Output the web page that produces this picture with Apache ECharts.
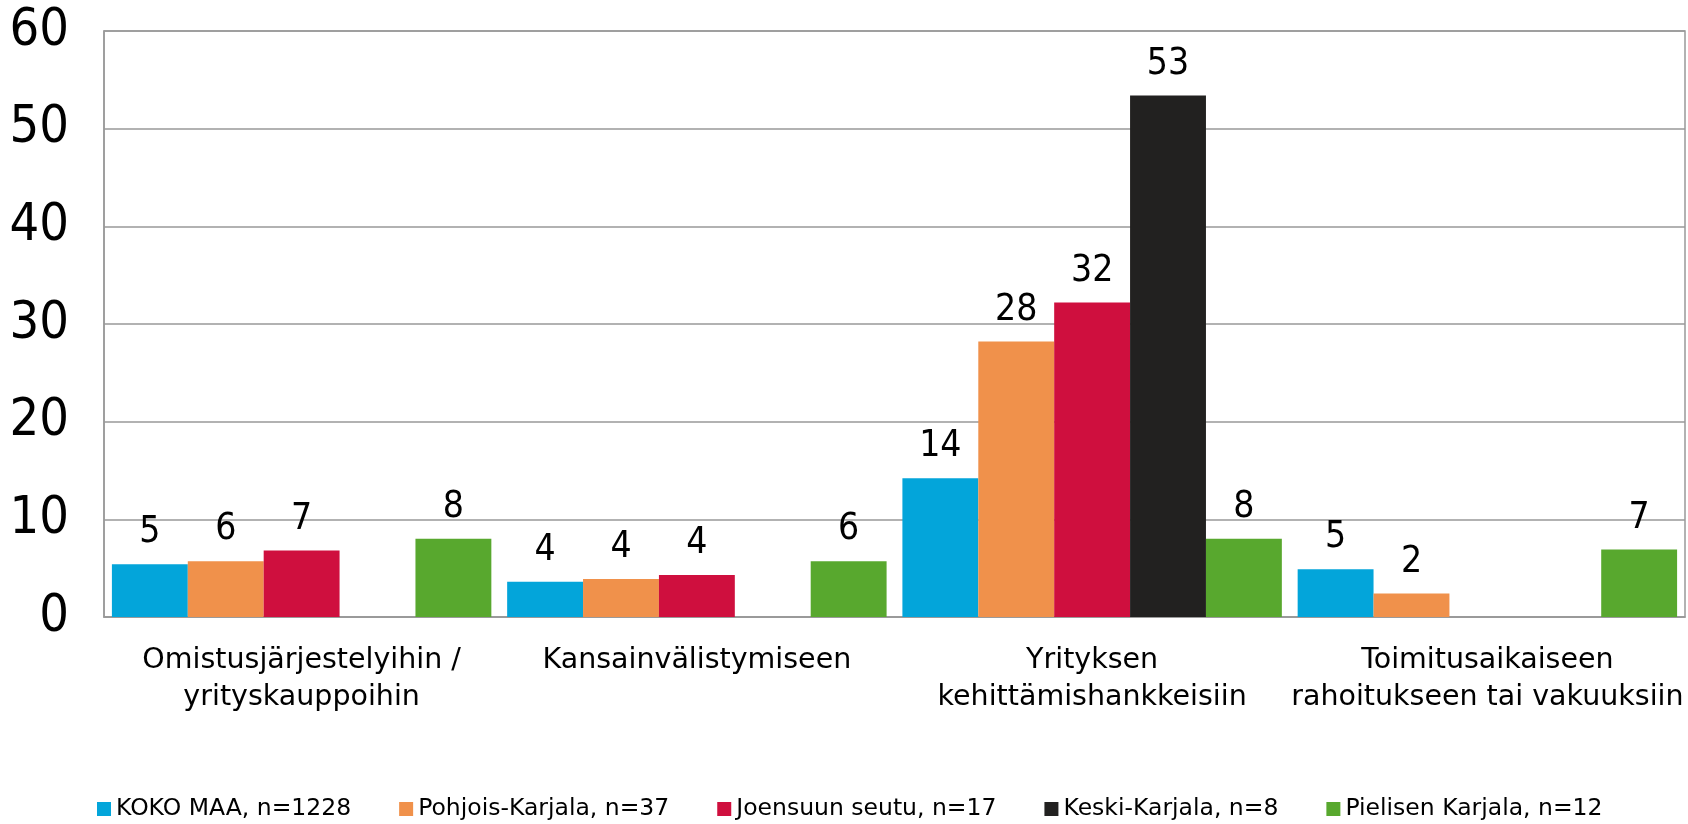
<!DOCTYPE html>
<html style="height: 100%">
<head>
    <title>Rahoitus</title>
    <meta charset="utf-8">
</head>
<body style="height: 100%; margin: 0">
<div id="container" style="height:824px;width:1688px"></div>
<script src="https://cdn.jsdelivr.net/npm/echarts@6/dist/echarts.min.js"></script>
<script type="text/javascript">
    // data
    var categories = ['Omistusjärjestelyihin /\nyrityskauppoihin', 'Kansainvälistymiseen',
        'Yrityksen\nkehittämishankkeisiin', 'Toimitusaikaiseen\nrahoitukseen tai vakuuksiin'];
    var seriesNames = ['KOKO MAA, n=1228', 'Pohjois-Karjala, n=37', 'Joensuun seutu, n=17',
        'Keski-Karjala, n=8', 'Pielisen Karjala, n=12'];
    var kokoMaa = [5.4, 3.6, 14.2, 4.9];
    var pohjoisKarjala = [5.7, 3.9, 28.2, 2.4];
    var joensuu = [6.8, 4.3, 32.2, null];
    var keskiKarjala = [null, null, 53.4, null];
    var pielinen = [8.0, 5.7, 8.0, 6.9];
    var yTicks = [0, 10, 20, 30, 40, 50, 60];

    var colors = ['#03a5da', '#f0914b', '#cf0f3e', '#222120', '#58a82e'];
    var values = [kokoMaa, pohjoisKarjala, joensuu, keskiKarjala, pielinen];

    var dom = document.getElementById("container");
    var myChart = echarts.init(dom);

    var series = [];
    for (var i = 0; i < values.length; i++) {
        series.push({
            name: seriesNames[i],
            type: 'bar',
            data: values[i],
            barGap: '0%',
            barCategoryGap: '4%',
            itemStyle: {color: colors[i]},
            label: {
                show: true,
                position: 'top',
                distance: 13,
                color: '#000',
                fontFamily: 'DejaVu Sans Condensed',
                fontSize: 37,
                formatter: function (p) {
                    return Math.round(p.value);
                }
            }
        });
    }

    myChart.setOption({
        animation: false,
        backgroundColor: '#fff',
        color: colors,
        grid: {
            left: 104, right: 3, top: 31, bottom: 207,
            show: true, borderColor: '#999', borderWidth: 1.5
        },
        legend: {
            data: seriesNames,
            left: 97,
            top: 797,
            padding: 0,
            icon: 'rect',
            itemWidth: 14,
            itemHeight: 14,
            itemGap: 48,
            textStyle: {fontFamily: 'DejaVu Sans', fontSize: 23.5, color: '#000'}
        },
        xAxis: {
            type: 'category',
            data: categories,
            axisLine: {lineStyle: {color: '#999', width: 1.5}},
            axisTick: {show: false},
            axisLabel: {
                margin: 25,
                interval: 0,
                color: '#000',
                fontFamily: 'DejaVu Sans',
                fontSize: 28.5,
                lineHeight: 37
            }
        },
        yAxis: {
            type: 'value',
            min: yTicks[0],
            max: yTicks[yTicks.length - 1],
            interval: 10,
            axisLine: {show: true, lineStyle: {color: '#999', width: 1.5}},
            axisTick: {show: false},
            splitLine: {lineStyle: {color: '#999', width: 1.5}},
            axisLabel: {
                margin: 35,
                color: '#000',
                fontFamily: 'DejaVu Sans Condensed',
                fontSize: 52
            }
        },
        series: series
    });
</script>
</body>
</html>
